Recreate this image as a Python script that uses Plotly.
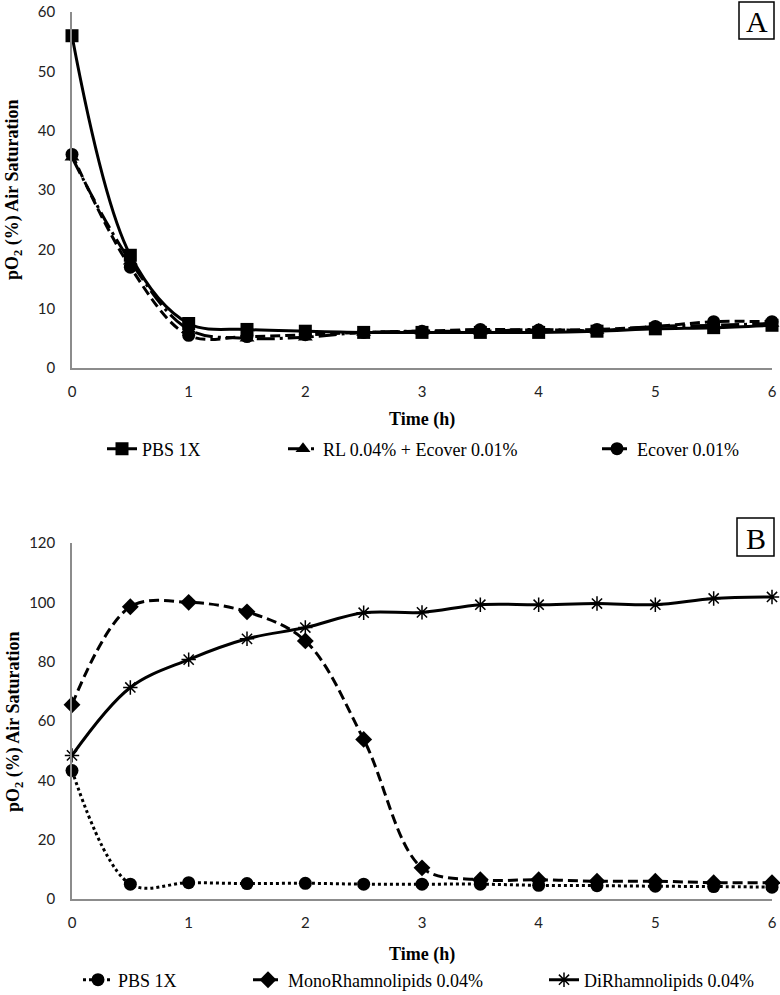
import plotly.graph_objects as go

time_h = [0, 0.5, 1, 1.5, 2, 2.5, 3, 3.5, 4, 4.5, 5, 5.5, 6]

# Panel A
a_pbs = [56, 19, 7.5, 6.5, 6.2, 6.0, 6.0, 6.0, 6.0, 6.2, 6.6, 6.8, 7.2]
a_rl_ecover = [35.5, 18, 6.5, 5.0, 5.2, 6.0, 6.2, 6.2, 6.5, 6.3, 7.0, 7.2, 7.5]
a_ecover = [36, 17, 5.5, 5.3, 5.6, 6.0, 6.2, 6.5, 6.4, 6.5, 7.0, 7.8, 7.8]

# Panel B
b_pbs = [43.3, 5.0, 5.5, 5.2, 5.3, 5.0, 5.0, 5.0, 4.6, 4.5, 4.3, 4.2, 4.0]
b_mono = [65.5, 98.5, 100, 96.8, 87, 53.8, 10.5, 6.5, 6.5, 6.0, 6.0, 5.5, 5.5]
b_di = [48.4, 71.3, 80.7, 87.7, 91.5, 96.5, 96.6, 99.2, 99.2, 99.6, 99.2, 101.3, 101.8]

x_ticks = [0, 1, 2, 3, 4, 5, 6]
ya_ticks = [0, 10, 20, 30, 40, 50, 60]
yb_ticks = [0, 20, 40, 60, 80, 100, 120]

W, H = 780, 995


def px_x(p):
    return p / W


def px_y(p):
    return 1 - p / H


fig = go.Figure()

SERIF = "Liberation Serif, Times New Roman, serif"


def tr(x, y, name, symbol, dash, xa, ya, legend, msize=13, mline=0):
    return go.Scatter(
        x=x, y=y, name=name, mode="lines+markers",
        line=dict(color="black", width=3, dash=dash, shape="spline", smoothing=1),
        marker=dict(symbol=symbol, size=msize, color="black",
                    line=dict(color="black", width=mline)),
        xaxis=xa, yaxis=ya, legend=legend, cliponaxis=False)


fig.add_trace(tr(time_h, a_pbs, "PBS 1X", "square", "solid", "x", "y", "legend"))
fig.add_trace(tr(time_h, a_rl_ecover, "RL 0.04% + Ecover 0.01%", "triangle-up", "18px,5px,3px,5px", "x", "y", "legend2"))
fig.add_trace(tr(time_h, a_ecover, "Ecover 0.01%", "circle", "10px,5px", "x", "y", "legend3"))

fig.add_trace(tr(time_h, b_pbs, "PBS 1X", "circle", "dot", "x2", "y2", "legend4"))
fig.add_trace(tr(time_h, b_mono, "MonoRhamnolipids 0.04%", "diamond", "10px,5px", "x2", "y2", "legend5"))
fig.add_trace(tr(time_h, b_di, "DiRhamnolipids 0.04%", "asterisk-open", "solid", "x2", "y2", "legend6", 12, 1.5))

tickfont = dict(family="Lato, Open Sans, sans-serif", size=15, color="#222")

xcommon = dict(range=[0, 6], tickvals=x_ticks, showgrid=False, zeroline=False,
               showline=True, linecolor="#8c8c8c", linewidth=1.5, ticks="",
               tickfont=tickfont, ticklabelstandoff=9, ticklabeloverflow="allow",
               automargin=False)
ycommon = dict(showgrid=False, zeroline=False, showline=True, linecolor="#8c8c8c",
               linewidth=1.5, ticks="", tickfont=tickfont, ticklabelstandoff=12,
               automargin=False)

layout = dict(
    width=W, height=H, paper_bgcolor="white", plot_bgcolor="white",
    margin=dict(l=0, r=0, t=0, b=0, pad=0, autoexpand=False), showlegend=True,
    xaxis=dict(domain=[px_x(72), px_x(772)], anchor="y", **xcommon),
    yaxis=dict(domain=[px_y(368), px_y(12)], anchor="x", range=[0, 60], tickvals=ya_ticks, **ycommon),
    xaxis2=dict(domain=[px_x(72), px_x(772)], anchor="y2", **xcommon),
    yaxis2=dict(domain=[px_y(899), px_y(543)], anchor="x2", range=[0, 120], tickvals=yb_ticks, **ycommon),
)

legend_font = dict(family=SERIF, size=18, color="black")
legend_pos = {
    "legend": (102, 449), "legend2": (283, 449), "legend3": (597, 449),
    "legend4": (78, 980), "legend5": (248, 980), "legend6": (544, 980),
}
for key, (lx, ly) in legend_pos.items():
    layout[key] = dict(x=px_x(lx), xanchor="left", y=px_y(ly), yanchor="middle",
                       orientation="h", font=legend_font, bgcolor="rgba(0,0,0,0)",
                       borderwidth=0)

fig.update_layout(**layout)

# axis titles
for txt, cx, cy, ang in [
    ("<b>Time (h)</b>", 422, 419, 0),
    ("<b>Time (h)</b>", 422, 954, 0),
    ("<b>pO<sub>2</sub> (%) Air Saturation</b>", 14, 190, -90),
    ("<b>pO<sub>2</sub> (%) Air Saturation</b>", 14, 722, -90),
]:
    fig.add_annotation(text=txt, xref="paper", yref="paper", x=px_x(cx), y=px_y(cy),
                       xanchor="center", yanchor="middle", showarrow=False, textangle=ang,
                       font=dict(family=SERIF, size=18, color="black"))

# panel labels with boxes
for label, x0, x1, y0, y1 in [("A", 739, 774, 2, 39), ("B", 737, 774, 518, 556)]:
    fig.add_shape(type="rect", xref="paper", yref="paper",
                  x0=px_x(x0), x1=px_x(x1), y0=px_y(y1), y1=px_y(y0),
                  line=dict(color="black", width=1.5), fillcolor="white")
    fig.add_annotation(text=label, xref="paper", yref="paper",
                       x=px_x((x0 + x1) / 2), y=px_y((y0 + y1) / 2 + 1),
                       xanchor="center", yanchor="middle", showarrow=False,
                       font=dict(family=SERIF, size=30, color="black"))

fig.write_html(
    "out.html",
    config={"displayModeBar": False},
    post_script="document.body.style.margin='0';document.body.style.overflow='hidden';",
)
